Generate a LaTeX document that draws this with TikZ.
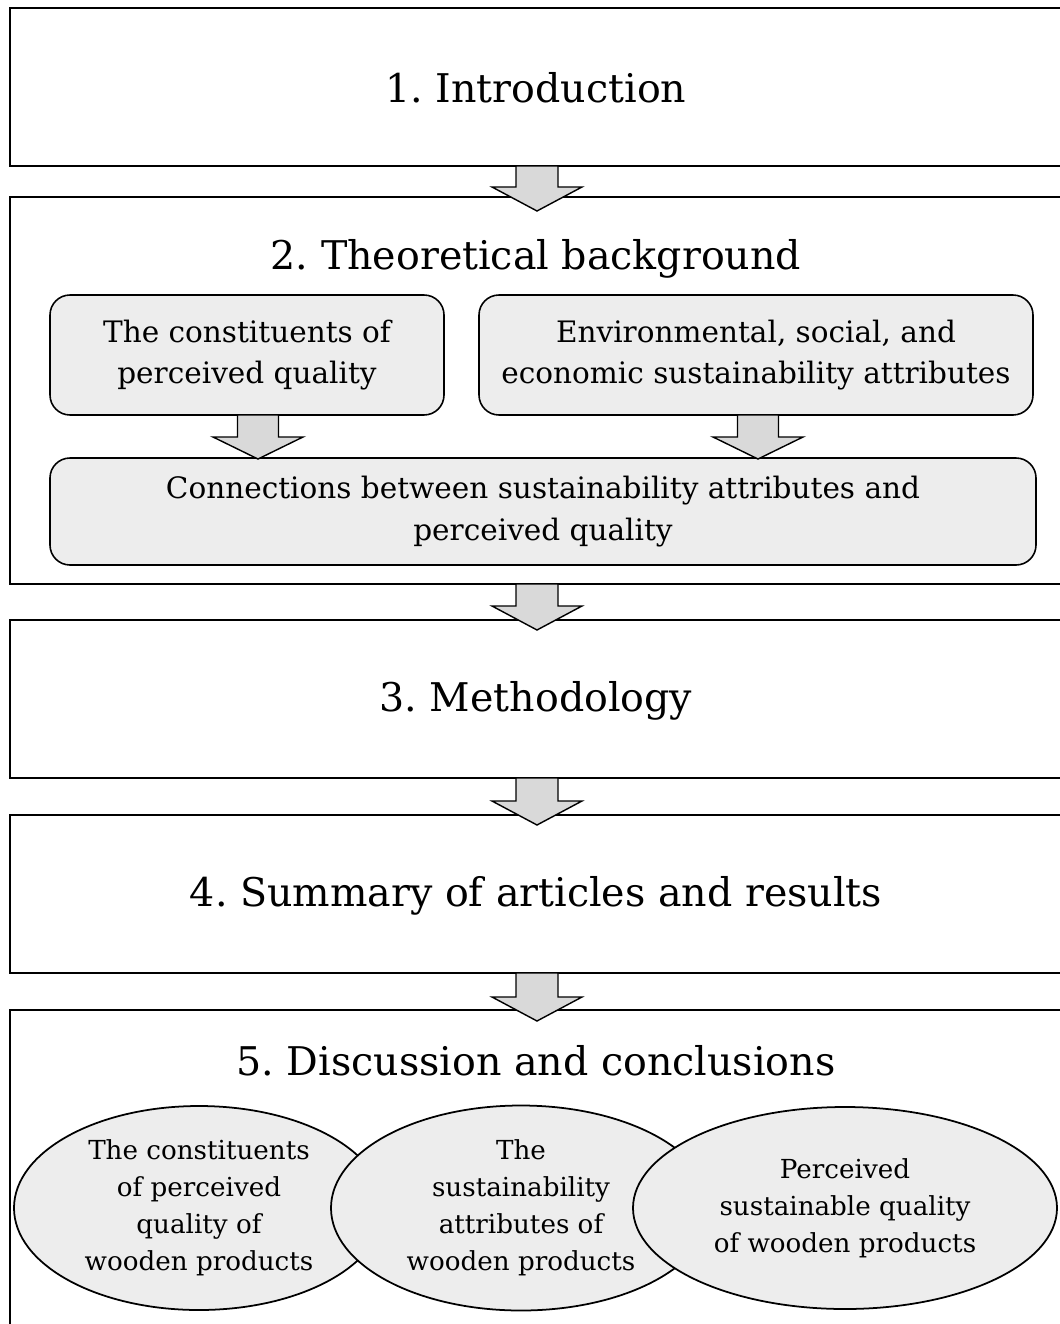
\documentclass[tikz,border=0pt]{standalone}
\usepackage{fontspec}
\setmainfont{DejaVu Serif}
\usepackage{tikz}
\usetikzlibrary{positioning,calc,shapes.geometric}
\definecolor{boxgray}{RGB}{237,237,237}
\definecolor{arrowgray}{RGB}{217,217,217}
\frenchspacing

% block arrow pointing down: #1 top point, #2 tip, #3 half shaft, #4 head length
\newcommand{\flowarrow}[4]{%
  \draw[blockarrow] ($(#1)+(-#3,0)$) -- ($(#2)+(-#3,-#4)$) -- ($(#2)+(-45,-#4)$)
     -- (#2) -- ($(#2)+(45,-#4)$) -- ($(#2)+(#3,-#4)$) -- ($(#1)+(#3,0)$) -- cycle;}

\begin{document}
\begin{tikzpicture}[x=0.2mm,y=-0.2mm,
    section/.style={draw,line width=1pt,fill=white,minimum width=210.8mm,inner sep=0pt,outer sep=0pt},
    title/.style={font=\fontsize{22.5}{26}\selectfont},
    topic/.style={draw,line width=0.9pt,fill=boxgray,rounded corners=4mm,align=center,
                  inner sep=0pt,outer sep=0pt,font=\fontsize{16.8}{23.8}\selectfont},
    outcome/.style={ellipse,draw,line width=1pt,fill=boxgray,align=center,inner sep=0pt,
                  font=\fontsize{14.9}{21}\selectfont},
    blockarrow/.style={draw,line width=0.8pt,fill=arrowgray,line join=miter}]
\useasboundingbox (0,0) rectangle (1059,1324);
%Sections
    \node[section,minimum height=31.6mm] (intro) at (537,87) {};
    \node[section,minimum height=77.4mm] (theory) at (537,390.5) {};
    \node[section,minimum height=31.6mm] (method) at (537,699) {};
    \node[section,minimum height=31.6mm] (summary) at (537,894) {};
    \node[section,minimum height=66mm] (discuss) at (537,1175) {};

    \node[title] (introT) at (536,88) {1. Introduction};
    \node[title] (theoryT) at (536,259) {2. Theoretical background};
    \node[title] (methodT) at (536,701) {3. Methodology};
    \node[title] (summaryT) at (536,896) {4. Summary of articles and results};
    \node[title] (discussT) at (536,1061) {5. Discussion and conclusions};

%Theoretical background
    \node[topic,minimum width=78.8mm,minimum height=24mm] (qualbox) at (247,355)
        {The constituents of\\perceived quality};
    \node[topic,minimum width=110.8mm,minimum height=24mm] (sustbox) at (756,355)
        {Environmental, social, and\\economic sustainability attributes};
    \node[topic,minimum width=197.2mm,minimum height=21.4mm] (connbox) at (543,511.5)
        {Connections between sustainability attributes and\\perceived quality};

    \coordinate (qa) at ($(qualbox.south)+(11,0)$);
    \coordinate (sa) at ($(sustbox.south)+(2,0)$);
    \flowarrow{qa}{$(qa |- connbox.north)+(0,1)$}{20.5}{22}
    \flowarrow{sa}{$(sa |- connbox.north)+(0,1)$}{20.5}{22}

%Flow between sections
    \flowarrow{intro.south}{$(theory.north)+(0,14)$}{21}{24}
    \flowarrow{theory.south}{$(method.north)+(0,10)$}{21}{24}
    \flowarrow{method.south}{$(summary.north)+(0,10)$}{21}{24}
    \flowarrow{summary.south}{$(discuss.north)+(0,11)$}{21}{24}

%Conclusions
    \node[outcome,minimum width=74mm,minimum height=40.8mm] (e1) at (199,1208)
        {The constituents\\of perceived\\quality of\\wooden products};
    \node[outcome,minimum width=76mm,minimum height=41mm] (e2) at (521,1208)
        {The\\sustainability\\attributes of\\wooden products};
    \node[outcome,minimum width=84.8mm,minimum height=40.4mm] (e3) at (845,1208)
        {Perceived\\sustainable quality\\of wooden products};
\end{tikzpicture}
\end{document}
